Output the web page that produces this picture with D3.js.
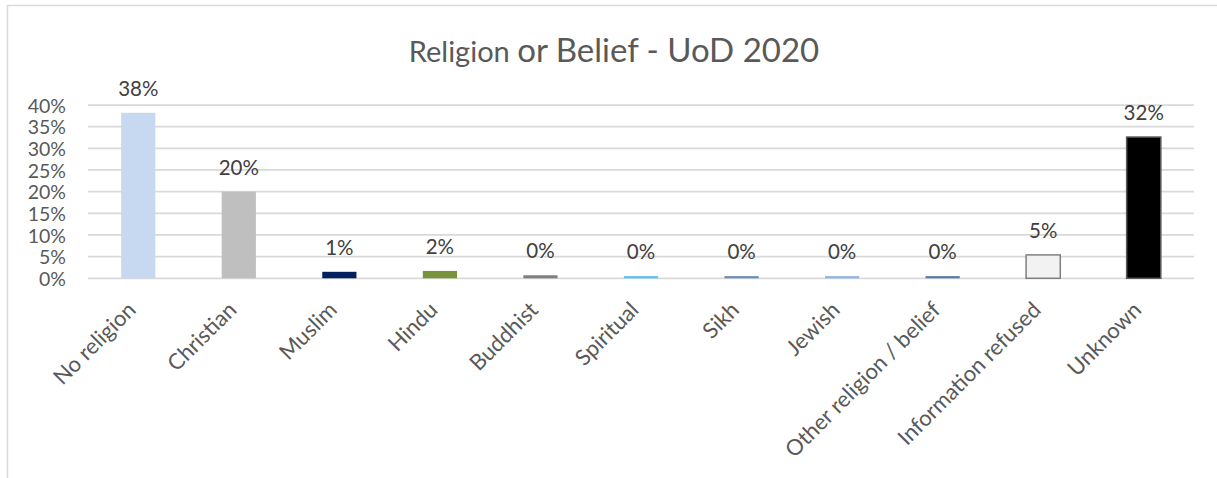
<!DOCTYPE html>
<html>
<head>
<meta charset="utf-8">
<script src="https://cdn.jsdelivr.net/npm/d3@7"></script>
<style>
  html, body { margin: 0; padding: 0; background: #fff; }
  svg { display: block; font-family: Lato, "Open Sans", sans-serif; }
</style>
</head>
<body>
<svg id="chart" width="1217" height="478"></svg>
<script>
// Religion or belief breakdown, UoD 2020
const categories = ["No religion", "Christian", "Muslim", "Hindu", "Buddhist", "Spiritual",
                    "Sikh", "Jewish", "Other religion / belief", "Information refused", "Unknown"];
const shares = [0.382, 0.200, 0.015, 0.017, 0.007, 0.005, 0.005, 0.005, 0.005, 0.054, 0.326];
const valueLabels = ["38%", "20%", "1%", "2%", "0%", "0%", "0%", "0%", "0%", "5%", "32%"];
const barColors = ["#c6d9f1", "#bfbfbf", "#002060", "#77933c", "#7f7f7f", "#56c3ee",
                   "#6a8bb8", "#8db4e2", "#5579ad", "#f2f2f2", "#000000"];
const barStrokes = ["none", "none", "none", "none", "none", "none",
                    "none", "none", "none", "#7f7f7f", "#595959"];
const yTicks = [0, 0.05, 0.10, 0.15, 0.20, 0.25, 0.30, 0.35, 0.40];

const svg = d3.select("#chart");

// chart frame
svg.append("rect")
  .attr("x", 7.5).attr("y", 5.5)
  .attr("width", 1240).attr("height", 500)
  .attr("fill", "none").attr("stroke", "#d9d9d9").attr("stroke-width", 1.5);

const x = d3.scaleBand().domain(categories).range([88, 1194]).paddingInner(0.66).paddingOuter(0.33);
const y = d3.scaleLinear().domain([0, 0.4]).range([278.3, 105]);

// gridlines
svg.append("g")
  .selectAll("line").data(yTicks).join("line")
  .attr("x1", 88).attr("x2", 1194)
  .attr("y1", d => y(d)).attr("y2", d => y(d))
  .attr("stroke", "#d9d9d9").attr("stroke-width", 1.75);

// y axis labels
const yAxis = d3.axisLeft(y).tickValues(yTicks).tickFormat(d3.format(".0%")).tickSize(0).tickPadding(0);
const yg = svg.append("g").attr("transform", "translate(66,0)").call(yAxis);
yg.select(".domain").remove();
yg.selectAll("text")
  .attr("fill", "#595959").attr("font-size", 19.5)
  .attr("font-family", "Lato, 'Open Sans', sans-serif")
  .attr("dy", "0.36em");

// bars
svg.append("g")
  .selectAll("rect").data(categories).join("rect")
  .attr("x", d => x(d))
  .attr("width", x.bandwidth())
  .attr("y", (d, i) => y(shares[i]))
  .attr("height", (d, i) => y(0) - y(shares[i]))
  .attr("fill", (d, i) => barColors[i])
  .attr("stroke", (d, i) => barStrokes[i])
  .attr("stroke-width", (d, i) => barStrokes[i] === "none" ? 0 : 1.5);

// value labels
svg.append("g")
  .selectAll("text").data(categories).join("text")
  .attr("x", d => x(d) + x.bandwidth() / 2)
  .attr("y", (d, i) => y(shares[i]) - 17)
  .attr("text-anchor", "middle")
  .attr("fill", "#404040").attr("font-size", 20.5)
  .text((d, i) => valueLabels[i]);

// category labels, rotated
const xAxis = d3.axisBottom(x).tickSize(0).tickPadding(0);
const xg = svg.append("g").attr("transform", `translate(0,${y(0)})`).call(xAxis);
xg.select(".domain").remove();
xg.selectAll("text")
  .attr("fill", "#595959").attr("font-size", 22)
  .attr("font-family", "Lato, 'Open Sans', sans-serif")
  .attr("text-anchor", "end")
  .attr("dy", null)
  .attr("transform", "translate(-1,33) rotate(-45)");

// title
const title = svg.append("text")
  .attr("x", 614).attr("y", 62)
  .attr("text-anchor", "middle")
  .attr("fill", "#595959");
title.append("tspan").attr("font-size", 29).text("Religion ");
title.append("tspan").attr("font-size", 33).text("or Belief - UoD 2020");
</script>
</body>
</html>
